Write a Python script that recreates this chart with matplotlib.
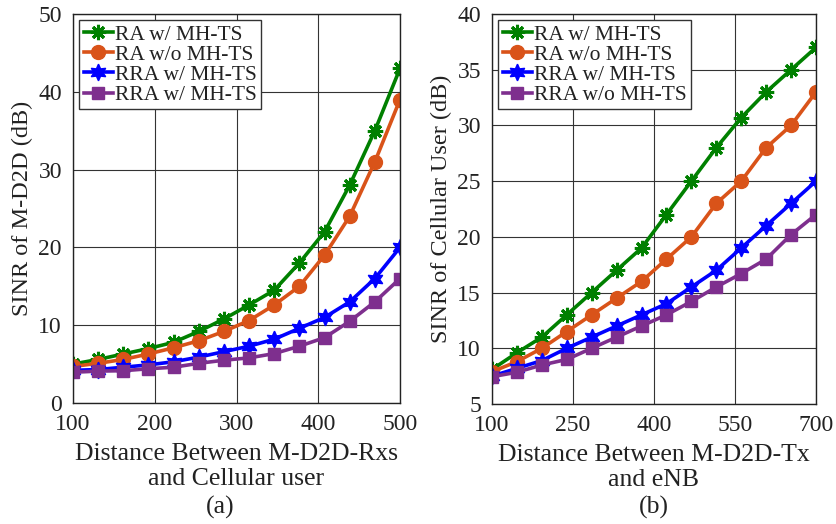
import numpy as np
import matplotlib
matplotlib.use("Agg")
import matplotlib.pyplot as plt

plt.rcParams['font.family'] = ['Liberation Serif', 'DejaVu Serif']

# ---- data (a)
xa = np.linspace(100, 500, 14)
a_ra_w = [5.0, 5.6, 6.3, 7.0, 7.8, 9.2, 10.8, 12.6, 14.5, 18.0, 22.0, 28.0, 35.0, 43.0]
a_ra_wo = [4.7, 5.1, 5.6, 6.3, 7.1, 8.0, 9.2, 10.6, 12.6, 15.0, 19.0, 24.0, 31.0, 39.0]
a_rra_w = [4.2, 4.3, 4.6, 4.9, 5.3, 5.9, 6.6, 7.3, 8.2, 9.6, 11.0, 13.0, 16.0, 20.0]
a_rra_wo = [3.95, 4.1, 4.15, 4.4, 4.6, 5.1, 5.5, 5.8, 6.35, 7.3, 8.4, 10.5, 13.0, 16.0]
a_labels = ['RA w/ MH-TS', 'RA w/o MH-TS', 'RRA w/ MH-TS', 'RRA w/ MH-TS']

# ---- data (b)
xb = np.linspace(100, 700, 14)
b_ra_w = [8.1, 9.6, 11.0, 13.0, 15.0, 17.0, 19.0, 22.0, 25.0, 28.0, 30.7, 33.0, 35.0, 37.0]
b_ra_wo = [7.9, 8.8, 10.0, 11.5, 13.0, 14.5, 16.0, 18.0, 20.0, 23.0, 25.0, 28.0, 30.0, 33.0]
b_rra_w = [7.5, 8.2, 8.9, 10.0, 11.0, 12.0, 13.0, 14.0, 15.5, 17.0, 19.0, 21.0, 23.0, 25.0]
b_rra_wo = [7.45, 7.85, 8.5, 9.0, 10.0, 11.0, 12.0, 13.0, 14.2, 15.5, 16.7, 18.0, 20.2, 22.0]
b_labels = ['RA w/ MH-TS', 'RA w/o MH-TS', 'RRA w/ MH-TS', 'RRA w/o MH-TS']

colors = ['#008000', '#D95319', '#0000FF', '#7E2F8E']
markers = [(8, 2, 0), 'o', (6, 1, 0), 's']
msizes = [11, 10, 12, 8]
mews = [2.2, 1, 1, 1]

fig = plt.figure(figsize=(8.36, 5.24), dpi=100)
axa = fig.add_axes([73/836, 1-403/524, 327/836, 389/524])
axb = fig.add_axes([492/836, 1-404/524, 324/836, 390/524])

def draw(ax, x, series, labels):
    for s, lab, c, m, ms, mew in zip(series, labels, colors, markers, msizes, mews):
        ax.plot(x, s, color=c, lw=2.6, marker=m, ms=ms, mfc=c, mec=c, mew=mew, label=lab)
    ax.grid(True, color='#333333', lw=0.8)
    ax.tick_params(direction='in', labelsize=17, length=0, pad=8, labelcolor='#222222')
    for sp in ax.spines.values():
        sp.set_color('#222222')
        sp.set_linewidth(1.0)
    leg = ax.legend(loc='upper left', fontsize=15.5, frameon=True, fancybox=False,
                    edgecolor='#333333', framealpha=1, handlelength=1.35,
                    handletextpad=0.1, borderpad=0.2, labelspacing=0.0,
                    borderaxespad=0.3)
    leg.get_frame().set_linewidth(1.0)
    for t in leg.get_texts():
        t.set_color('#222222')

draw(axa, xa, [a_ra_w, a_ra_wo, a_rra_w, a_rra_wo], a_labels)
axa.set_xlim(100, 500)
axa.set_ylim(0, 50)
axa.set_xticks([100, 200, 300, 400, 500])
axa.set_yticks([0, 10, 20, 30, 40, 50])
axa.set_ylabel('SINR of M-D2D (dB)', fontsize=17.5, labelpad=4, color='#222222')
axa.set_xlabel('Distance Between M-D2D-Rxs\nand Cellular user', fontsize=18.5,
               linespacing=1.15, labelpad=6, color='#222222')

draw(axb, xb, [b_ra_w, b_ra_wo, b_rra_w, b_rra_wo], b_labels)
axb.set_xlim(100, 700)
axb.set_ylim(5, 40)
axb.set_xticks([100, 250, 400, 550, 700])
axb.set_yticks([5, 10, 15, 20, 25, 30, 35, 40])
axb.set_ylabel('SINR of Cellular User (dB)', fontsize=17.5, labelpad=4, color='#222222')
axb.set_xlabel('Distance Between M-D2D-Tx\nand eNB', fontsize=18.5,
               linespacing=1.15, labelpad=6, color='#222222')

fig.text(220/836, 1-507/524, '(a)', fontsize=18.5, ha='center', va='center', color='#222222')
fig.text(654/836, 1-507/524, '(b)', fontsize=18.5, ha='center', va='center', color='#222222')

fig.savefig('out.png', dpi=100)
